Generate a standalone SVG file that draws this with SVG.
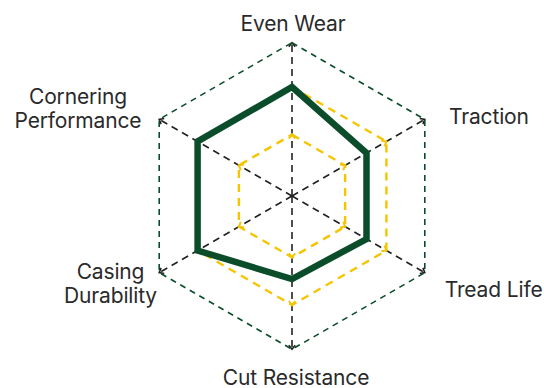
<svg xmlns="http://www.w3.org/2000/svg" width="544" height="388" viewBox="0 0 544 388">
<style>
.lbl{font-family:Inter,"Liberation Sans",sans-serif;font-size:21px;letter-spacing:-0.15px;fill:#2a2a2a}
.axis{fill:none;stroke:#222;stroke-width:1.6;stroke-dasharray:7 5}
.outer{fill:none;stroke:#0b4d2b;stroke-width:1.6;stroke-dasharray:6 5}
.ring{fill:none;stroke:#f6c400;stroke-width:2.4;stroke-dasharray:8 6}
.data{fill:none;stroke:#0b4d2b;stroke-width:6.5;stroke-linejoin:miter}
.chev{fill:none;stroke:#f6c400;stroke-width:2}
</style>
<defs>
<marker id="arr" viewBox="-6 -5 8 10" markerWidth="8" markerHeight="10" markerUnits="userSpaceOnUse" refX="0" refY="0" orient="auto">
<path d="M-4,-3.2 L0,0 L-4,3.2" fill="none" stroke="#222" stroke-width="1.6"/>
</marker>
<path id="chv" d="M-4,-3.2 L0,0 L-4,3.2"/>
</defs>
<g id="connectors">
<g id="axes">
<line class="axis" x1="292" y1="196" x2="292" y2="42.7" marker-end="url(#arr)"/>
<line class="axis" x1="292" y1="196" x2="424.8" y2="119.35" marker-end="url(#arr)"/>
<line class="axis" x1="292" y1="196" x2="424.8" y2="272.65" marker-end="url(#arr)"/>
<line class="axis" x1="292" y1="196" x2="292" y2="349.3" marker-end="url(#arr)"/>
<line class="axis" x1="292" y1="196" x2="159.2" y2="272.65" marker-end="url(#arr)"/>
<line class="axis" x1="292" y1="196" x2="159.2" y2="119.35" marker-end="url(#arr)"/>
</g>
<polygon id="outer-ring" class="outer" points="292,42.7 424.8,119.35 424.8,272.65 292,349.3 159.2,272.65 159.2,119.35"/>
<g id="ring-outer">
<polygon class="ring" points="292,87 386.4,141.5 386.4,250.5 292,305 197.6,250.5 197.6,141.5"/>
<g class="chev">
<use href="#chv" transform="translate(292,87) rotate(-90)"/>
<use href="#chv" transform="translate(386.4,141.5) rotate(-30)"/>
<use href="#chv" transform="translate(386.4,250.5) rotate(30)"/>
<use href="#chv" transform="translate(292,305) rotate(90)"/>
<use href="#chv" transform="translate(197.6,250.5) rotate(150)"/>
<use href="#chv" transform="translate(197.6,141.5) rotate(210)"/>
</g>
</g>
<g id="ring-inner">
<polygon class="ring" points="292,134.7 345.1,165.35 345.1,226.65 292,257.3 238.9,226.65 238.9,165.35"/>
<g class="chev">
<use href="#chv" transform="translate(292,134.7) rotate(-90)"/>
<use href="#chv" transform="translate(345.1,165.35) rotate(-30)"/>
<use href="#chv" transform="translate(345.1,226.65) rotate(30)"/>
<use href="#chv" transform="translate(292,257.3) rotate(90)"/>
<use href="#chv" transform="translate(238.9,226.65) rotate(150)"/>
<use href="#chv" transform="translate(238.9,165.35) rotate(210)"/>
</g>
</g>
</g>
<g id="data-series">
<polygon class="data" points="292,87 366.5,153 366.5,239 292,279 197.6,250.5 197.6,141.5"/>
</g>
<g id="label-even-wear"><text class="lbl" x="293" y="30.7" text-anchor="middle">Even Wear</text></g>
<g id="label-traction"><text class="lbl" x="449" y="124.3">Traction</text></g>
<g id="label-tread-life"><text class="lbl" x="542.5" y="296.7" text-anchor="end">Tread Life</text></g>
<g id="label-cut-resistance"><text class="lbl" x="296" y="384.5" text-anchor="middle">Cut Resistance</text></g>
<g id="label-cornering"><text class="lbl" text-anchor="middle"><tspan x="78" y="103.5">Cornering</tspan><tspan x="78" y="127.5">Performance</tspan></text></g>
<g id="label-casing"><text class="lbl" text-anchor="middle"><tspan x="110.5" y="279.3">Casing</tspan><tspan x="110.5" y="303.3">Durability</tspan></text></g>
</svg>
